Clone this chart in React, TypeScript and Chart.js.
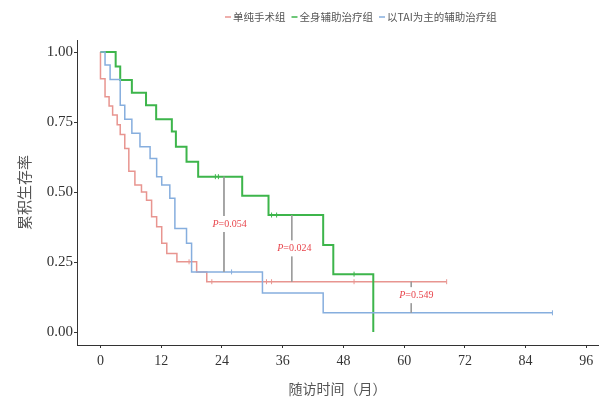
import React, { useEffect, useRef } from "react";
import { Chart, registerables } from "chart.js";
Chart.register(...registerables);

// ---- data ----
const seriesNames = ["单纯手术组", "全身辅助治疗组", "以TAI为主的辅助治疗组"];

const redTimes = [0, 0, 0.9, 1.7, 2.4, 3.3, 3.9, 4.8, 5.6, 6.8, 8.1, 9.1, 10.1, 11.1, 12.1, 13.1, 15.1, 19, 21, 68.4];
const redSurv = [1, 0.905, 0.84, 0.807, 0.775, 0.74, 0.706, 0.656, 0.574, 0.525, 0.5, 0.471, 0.412, 0.376, 0.317, 0.281, 0.251, 0.215, 0.18, 0.18];
const redCensor = [17.5, 22, 32.8, 33.8, 50.1, 68.4];

const greenTimes = [0, 3, 3.9, 6.2, 9, 11, 14.1, 14.9, 17, 19.3, 28, 33.2, 44, 46, 53.9];
const greenSurv = [1, 0.948, 0.9, 0.855, 0.81, 0.76, 0.716, 0.662, 0.608, 0.555, 0.487, 0.418, 0.311, 0.207, 0];
const greenCensor = [22.7, 23.3, 33.8, 34.8, 50.1];

const blueTimes = [0, 0.9, 1.9, 3.9, 4.8, 6.2, 7.8, 9.8, 11.1, 12.1, 13.7, 14.7, 17, 18, 32, 44, 89.3];
const blueSurv = [1, 0.954, 0.902, 0.81, 0.76, 0.71, 0.662, 0.62, 0.555, 0.525, 0.478, 0.37, 0.317, 0.215, 0.14, 0.069, 0.069];
const blueCensor = [25.9, 89.3];

const xTicks = [0, 12, 24, 36, 48, 60, 72, 84, 96];
const yTicks = [0, 0.25, 0.5, 0.75, 1];

const pValues = ["0.054", "0.024", "0.549"];
const pLineTimes = [24.4, 37.8, 61.4];
const pLineTop = [0.555, 0.418, 0.18];
const pLineBottom = [0.215, 0.18, 0.069];
const pLabelTimes = [25.5, 38.3, 62.4];
const pLabelSurv = [0.386, 0.299, 0.132];

const xTitle = "随访时间（月）";
const yTitle = "累积生存率";

// ---- styles ----
const COLORS = ["#e89590", "#3db54b", "#86aede"];
const WIDTHS = [1.5, 2, 1.5];
const CJK = '"Noto Sans CJK SC", sans-serif';
const SERIF = '"Liberation Serif", "DejaVu Serif", serif';

function stepAt(times: number[], surv: number[], t: number) {
  let v = surv[0];
  for (let i = 0; i < times.length; i++) if (times[i] <= t) v = surv[i];
  return v;
}

const curves = [
  { times: redTimes, surv: redSurv, censor: redCensor },
  { times: greenTimes, surv: greenSurv, censor: greenCensor },
  { times: blueTimes, surv: blueSurv, censor: blueCensor },
];

export default function App() {
  const ref = useRef<HTMLCanvasElement>(null);
  useEffect(() => {
    document.body.style.margin = "0";
    const ctx = ref.current!.getContext("2d")!;
    const datasets: any[] = [];
    curves.forEach((c, i) => {
      datasets.push({
        type: "line",
        label: seriesNames[i],
        data: c.times.map((t, j) => ({ x: t, y: c.surv[j] })),
        stepped: "before",
        borderColor: COLORS[i],
        borderWidth: WIDTHS[i],
        pointRadius: 0,
        fill: false,
        order: 3 - i,
      });
      datasets.push({
        type: "line",
        label: seriesNames[i] + " censor",
        data: c.censor.map((t) => ({ x: t, y: stepAt(c.times, c.surv, t) })),
        showLine: false,
        pointStyle: "line",
        rotation: 90,
        pointRadius: 2.5,
        pointBorderWidth: 1,
        pointBorderColor: COLORS[i],
        borderColor: COLORS[i],
        order: 3 - i,
      });
    });
    pLineTimes.forEach((t, i) => {
      datasets.push({
        type: "line",
        label: "p" + i,
        data: [
          { x: t, y: pLineTop[i] },
          { x: t, y: pLineBottom[i] },
        ],
        borderColor: "#9a9a9a",
        borderWidth: 1,
        pointRadius: 0,
        fill: false,
        order: 0,
      });
    });

    const overlay = {
      id: "overlay",
      afterDraw(chart: any) {
        const c = chart.ctx;
        const xs = chart.scales.x;
        const ys = chart.scales.y;
        c.save();
        // P labels
        pValues.forEach((p, i) => {
          const cx = xs.getPixelForValue(pLabelTimes[i]);
          const cy = ys.getPixelForValue(pLabelSurv[i]);
          c.font = `italic 10px ${SERIF}`;
          const wP = c.measureText("P").width;
          c.font = `10px ${SERIF}`;
          const rest = "=" + p;
          const wR = c.measureText(rest).width;
          const w = wP + wR;
          const left = cx - w / 2;
          c.fillStyle = "#ffffff";
          c.fillRect(left - 2, cy - 8, w + 4, 16);
          c.fillStyle = "#e8464d";
          c.textBaseline = "middle";
          c.textAlign = "left";
          c.font = `italic 10px ${SERIF}`;
          c.fillText("P", left, cy);
          c.font = `10px ${SERIF}`;
          c.fillText(rest, left + wP, cy);
        });
        // legend (sequential layout)
        c.font = `10.5px ${CJK}`;
        c.textBaseline = "middle";
        c.textAlign = "left";
        let lx = 225;
        seriesNames.forEach((n, i) => {
          c.strokeStyle = COLORS[i];
          c.lineWidth = 1.5;
          c.beginPath();
          c.moveTo(lx, 17);
          c.lineTo(lx + 6, 17);
          c.stroke();
          c.fillStyle = "#555555";
          c.fillText(n, lx + 8, 17);
          lx += 8 + c.measureText(n).width + 6;
        });
        // axis titles
        c.fillStyle = "#555555";
        c.font = `14px ${CJK}`;
        c.textAlign = "center";
        c.fillText(xTitle, (chart.chartArea.left + chart.chartArea.right) / 2, 389);
        c.translate(24, (chart.chartArea.top + chart.chartArea.bottom) / 2);
        c.rotate(-Math.PI / 2);
        c.font = `15px ${CJK}`;
        c.fillText(yTitle, 0, 0);
        c.restore();
      },
    };

    const chart = new Chart(ctx, {
      type: "line",
      data: { datasets },
      options: {
        animation: false,
        responsive: false,
        devicePixelRatio: 1,
        layout: { padding: { top: 40, right: 5, left: 0, bottom: 0 } },
        plugins: { legend: { display: false }, tooltip: { enabled: false } },
        scales: {
          x: {
            type: "linear",
            min: -4.64,
            max: 98.3,
            afterBuildTicks: (s: any) => {
              s.ticks = xTicks.map((v) => ({ value: v }));
            },
            afterFit: (s: any) => {
              s.height = 58;
            },
            grid: { drawOnChartArea: false, color: "#333", tickLength: 3, tickColor: "#333" },
            border: { display: true, color: "#333", width: 1 },
            ticks: {
              color: "#333",
              font: { family: SERIF, size: 14 },
              padding: 5,
              maxRotation: 0,
              callback: (v: any) => String(v),
            },
          },
          y: {
            type: "linear",
            min: -0.046,
            max: 1.043,
            afterBuildTicks: (s: any) => {
              s.ticks = yTicks.map((v) => ({ value: v }));
            },
            afterFit: (s: any) => {
              s.width = 77;
            },
            grid: { drawOnChartArea: false, color: "#333", tickLength: 3, tickColor: "#333" },
            border: { display: true, color: "#333", width: 1 },
            ticks: {
              color: "#333",
              font: { family: SERIF, size: 15 },
              padding: 1,
              callback: (v: any) => Number(v).toFixed(2),
            },
          },
        },
      },
      plugins: [overlay],
    } as any);
    return () => chart.destroy();
  }, []);
  return (
    <div style={{ width: 603, height: 403 }}>
      <canvas ref={ref} width={603} height={403} style={{ display: "block" }} />
    </div>
  );
}
